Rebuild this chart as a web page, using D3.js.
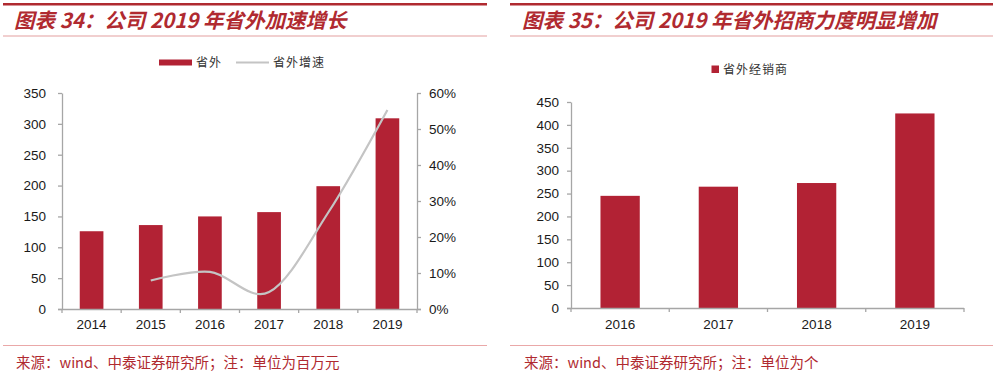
<!DOCTYPE html>
<html><head><meta charset="utf-8">
<script src="https://cdn.jsdelivr.net/npm/d3@7"></script>
<style>
body{margin:0;background:#fff;}
svg{display:block;}
</style></head>
<body>
<svg id="c" width="1000" height="379"></svg>
<script>
// ---- data ----
const years1 = ["2014","2015","2016","2017","2018","2019"];
const outside = [126, 136, 150, 157, 199, 309];
const growthYears = ["2015","2016","2017","2018","2019"];
const growth = [0.079, 0.103, 0.047, 0.268, 0.553];
const leftTicks = [0,50,100,150,200,250,300,350];
const rightTicks = [0,0.1,0.2,0.3,0.4,0.5,0.6];

const years2 = ["2016","2017","2018","2019"];
const dealers = [245, 265, 273, 425];
const ticks2 = [0,50,100,150,200,250,300,350,400,450];

const title1 = "图表 34：公司 2019 年省外加速增长";
const title2 = "图表 35：公司 2019 年省外招商力度明显增加";
const source1 = "来源：wind、中泰证券研究所；注：单位为百万元";
const source2 = "来源：wind、中泰证券研究所；注：单位为个";
const legend1 = ["省外", "省外增速"];
const legend2 = "省外经销商";

// ---- style ----
const RED = "#b02a30", BAR = "#b22234", AXIS = "#a6a6a6", LINE = "#c4c4c4";
const svg = d3.select("#c");

function frame(x0, x1, tx, title, source){
  svg.append("rect").attr("x", x0).attr("y", 3).attr("width", x1 - x0).attr("height", 2.5).attr("fill", RED);
  svg.append("text").attr("x", tx).attr("y", 28).text(title)
    .attr("font-family", "'Noto Sans CJK SC', sans-serif").attr("font-weight", "bold")
    .attr("font-style", "italic").attr("font-size", 20.5).attr("fill", RED);
  svg.append("rect").attr("x", x0).attr("y", 35.5).attr("width", x1 - x0).attr("height", 1).attr("fill", "#e4a0a0");
  svg.append("rect").attr("x", x0).attr("y", 345).attr("width", x1 - x0).attr("height", 1).attr("fill", "#eaa8a8");
  svg.append("text").attr("x", tx + 2).attr("y", 368).text(source)
    .attr("font-family", "'Noto Sans CJK SC', monospace").attr("font-size", 14.5).attr("fill", RED);
}
frame(3, 487, 14, title1, source1);
frame(510, 993, 522, title2, source2);

function styleAxis(g){
  g.selectAll(".domain").attr("stroke", AXIS).attr("stroke-width", 1.3);
  g.selectAll(".tick line").attr("stroke", AXIS).attr("stroke-width", 1.3);
  g.selectAll(".tick text").attr("fill", "#1a1a1a")
    .attr("font-family", "'Liberation Sans', Arial, sans-serif").attr("font-size", 13.5);
}

// ---- chart 1 ----
{
  const x = d3.scaleBand().domain(years1).range([62, 417]).paddingInner(0).paddingOuter(0);
  const y = d3.scaleLinear().domain([0, 350]).range([309, 93]);
  const y2 = d3.scaleLinear().domain([0, 0.6]).range([309, 93]);
  const bw = x.bandwidth() * 0.4;

  svg.append("g").selectAll("rect").data(outside).join("rect")
    .attr("x", (d,i) => x(years1[i]) + (x.bandwidth() - bw) / 2)
    .attr("width", bw)
    .attr("y", d => y(d)).attr("height", d => y(0) - y(d))
    .attr("fill", BAR);

  const gl = svg.append("g").attr("transform", "translate(62,0)")
    .call(d3.axisLeft(y).tickValues(leftTicks).tickSize(4).tickPadding(12).tickSizeOuter(0));
  styleAxis(gl);
  const gr = svg.append("g").attr("transform", "translate(417,0)")
    .call(d3.axisRight(y2).tickValues(rightTicks).tickFormat(d3.format(".0%")).tickSize(4).tickPadding(8).tickSizeOuter(0));
  styleAxis(gr);
  const gb = svg.append("g").attr("transform", "translate(0,309)")
    .call(d3.axisBottom(x).tickSize(0).tickPadding(10).tickSizeOuter(0));
  styleAxis(gb);
  gb.select(".domain").attr("d", `M${x.range()[0]-4},0.5H${x.range()[1]+4}`);
  svg.append("g").selectAll("line").data(years1.concat(["end"])).join("line")
    .attr("x1", (d,i) => x.range()[0] + i * x.step()).attr("x2", (d,i) => x.range()[0] + i * x.step())
    .attr("y1", 309).attr("y2", 313).attr("stroke", AXIS).attr("stroke-width", 1.3);

  const line = d3.line()
    .x((d,i) => x(growthYears[i]) + x.bandwidth() / 2)
    .y(d => y2(d))
    .curve(d3.curveCardinal.tension(0));
  svg.append("path").attr("d", line(growth)).attr("fill", "none")
    .attr("stroke", LINE).attr("stroke-width", 2.2);

  // legend
  const lg = svg.append("g").attr("font-family", "'Noto Sans CJK SC', serif").attr("font-size", 12).attr("fill", "#333").attr("letter-spacing", 1);
  lg.append("rect").attr("x", 159).attr("y", 59.5).attr("width", 33).attr("height", 6).attr("fill", BAR);
  lg.append("text").attr("x", 196).attr("y", 67).text(legend1[0]);
  lg.append("line").attr("x1", 236).attr("x2", 269).attr("y1", 62.5).attr("y2", 62.5).attr("stroke", LINE).attr("stroke-width", 2);
  lg.append("text").attr("x", 273).attr("y", 67).text(legend1[1]);
}

// ---- chart 2 ----
{
  const x = d3.scaleBand().domain(years2).range([571, 964]).paddingInner(0).paddingOuter(0);
  const y = d3.scaleLinear().domain([0, 450]).range([308, 102]);
  const bw = x.bandwidth() * 0.4;

  svg.append("g").selectAll("rect").data(dealers).join("rect")
    .attr("x", (d,i) => x(years2[i]) + (x.bandwidth() - bw) / 2)
    .attr("width", bw)
    .attr("y", d => y(d)).attr("height", d => y(0) - y(d))
    .attr("fill", BAR);

  const gl = svg.append("g").attr("transform", "translate(571,0)")
    .call(d3.axisLeft(y).tickValues(ticks2).tickSize(4).tickPadding(8).tickSizeOuter(0));
  styleAxis(gl);
  const gb = svg.append("g").attr("transform", "translate(0,308)")
    .call(d3.axisBottom(x).tickSize(0).tickPadding(11).tickSizeOuter(0));
  styleAxis(gb);
  gb.select(".domain").attr("d", `M${x.range()[0]-4},0.5H${x.range()[1]}`);
  svg.append("g").selectAll("line").data(years2.concat(["end"])).join("line")
    .attr("x1", (d,i) => x.range()[0] + i * x.step()).attr("x2", (d,i) => x.range()[0] + i * x.step())
    .attr("y1", 308).attr("y2", 312).attr("stroke", AXIS).attr("stroke-width", 1.3);

  const lg = svg.append("g").attr("font-family", "'Noto Sans CJK SC', serif").attr("font-size", 12).attr("fill", "#333").attr("letter-spacing", 1);
  lg.append("rect").attr("x", 711.5).attr("y", 65.5).attr("width", 7.5).attr("height", 7.5).attr("fill", BAR);
  lg.append("text").attr("x", 723).attr("y", 73.5).text(legend2);
}
</script>
</body></html>
